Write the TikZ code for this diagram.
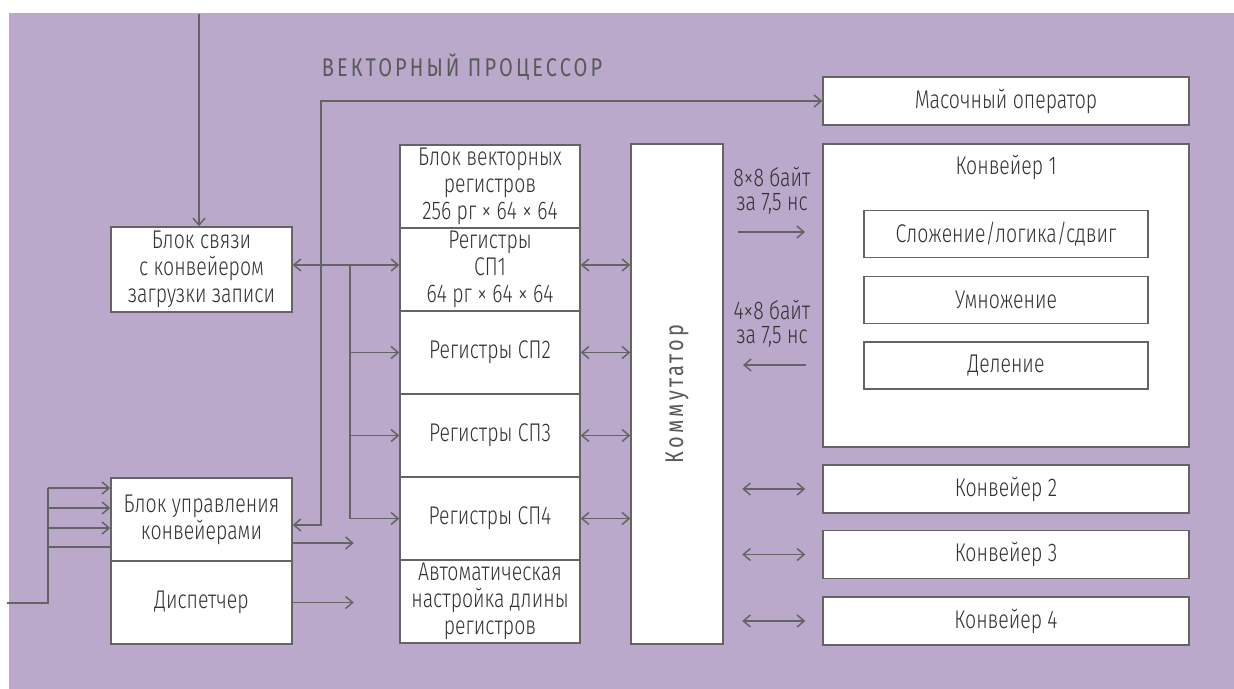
\documentclass[tikz,border=0pt]{standalone}
\usepackage{fontspec}
\setmainfont{Fira Sans Light}[FakeStretch=0.76]
\newfontfamily\titlefont{Fira Sans}[FakeStretch=0.78,LetterSpace=12]
\usetikzlibrary{arrows.meta}
\definecolor{bgpurple}{RGB}{186,169,202}
\definecolor{linegray}{RGB}{100,100,100}
\definecolor{txtgray}{RGB}{50,50,50}
\definecolor{ttlgray}{RGB}{90,90,90}

\begin{document}
\begin{tikzpicture}[x=0.5pt,y=-0.5pt,
	>={Straight Barb[length=3.5pt,width=6pt]},
	color=linegray, line width=0.75pt,
	box/.style={draw=linegray, fill=white, line width=0.75pt, inner sep=1pt,
		align=center, text=txtgray, font=\fontsize{12.8}{13.6}\selectfont},
	lbl/.style={align=center, text=txtgray, font=\fontsize{12.8}{12.2}\selectfont},
	ttl/.style={text=ttlgray, font=\titlefont\fontsize{12.8}{13.6}\selectfont}]
	\useasboundingbox (0,0) rectangle (1234,689);
	\fill[bgpurple] (9,13) rectangle (1234,689);
	\node[ttl] (title) at (462,67) {ВЕКТОРНЫЙ ПРОЦЕССОР};
	% left blocks
	\node[box, minimum width=90.5pt, minimum height=42.5pt] (svyaz) at (201.5,269.5) {Блок связи\\с конвейером\\загрузки записи};
	\node[box, minimum width=90.5pt, minimum height=41.5pt] (upr) at (201.5,519.5) {Блок управления\\конвейерами};
	\node[box, minimum width=90.5pt, minimum height=41.5pt] (disp) at (201.5,602.5) {Диспетчер};
	% registers
	\node[box, minimum width=90pt, minimum height=41.5pt] (reg0) at (490,186.5) {Блок векторных\\регистров\\256 рг × 64 × 64};
	\node[box, minimum width=90pt, minimum height=41.5pt] (reg1) at (490,269.5) {Регистры\\СП1\\64 рг × 64 × 64};
	\node[box, minimum width=90pt, minimum height=41.5pt] (reg2) at (490,352.5) {Регистры СП2};
	\node[box, minimum width=90pt, minimum height=41.5pt] (reg3) at (490,435.5) {Регистры СП3};
	\node[box, minimum width=90pt, minimum height=41.5pt] (reg4) at (490,518.5) {Регистры СП4};
	\node[box, minimum width=90pt, minimum height=41.5pt] (reg5) at (490,601.5) {Автоматическая\\настройка длины\\регистров};
	\node[box, minimum width=46pt, minimum height=250pt] (komm) at (677,394) {};
	\node[ttl, rotate=90] (kommtxt) at (komm.center) {Коммутатор};
	% pipelines
	\node[box, minimum width=183pt, minimum height=24pt] (mask) at (1006,101) {Масочный оператор};
	\node[box, minimum width=183pt, minimum height=151.5pt] (konv1) at (1006,295.5) {};
	\node[lbl] (k1txt) at (1006,167) {Конвейер 1};
	\node[box, minimum width=142pt, minimum height=23.5pt] (add) at (1006,234) {Сложение/логика/сдвиг};
	\node[box, minimum width=142pt, minimum height=23.5pt] (mul) at (1006,300) {Умножение};
	\node[box, minimum width=142pt, minimum height=23.5pt] (div) at (1006,365.5) {Деление};
	\node[box, minimum width=183pt, minimum height=24pt] (konv2) at (1006,489) {Конвейер 2};
	\node[box, minimum width=183pt, minimum height=24pt] (konv3) at (1006,554.5) {Конвейер 3};
	\node[box, minimum width=183pt, minimum height=24pt] (konv4) at (1006,621) {Конвейер 4};
	\node[lbl] (fwtxt) at (772,191) {8×8 байт\\за 7,5 нс};
	\node[lbl] (bwtxt) at (772,324) {4×8 байт\\за 7,5 нс};
	% input
	\coordinate (top) at (199,14);
	\draw[->] (top) -- (top |- svyaz.north);
	\coordinate (in) at (7,603);
	\coordinate (inbus) at (48,488);
	\draw (in) -| (inbus);
	\foreach \s in {15.75pt,5.75pt,-4.25pt}
		\draw[->] ([yshift=\s]upr.west -| inbus) -- ([yshift=\s]upr.west);
	\draw ([yshift=-13.75pt]upr.west -| inbus) -- ([yshift=-13.75pt]upr.west);
	% register bus
	\draw[<->] ([yshift=2.25pt]svyaz.east) -- ([yshift=2.25pt]reg1.west);
	\coordinate (rbus) at (350,265);
	\draw (rbus) -- (rbus |- reg4.west);
	\foreach \r in {reg2,reg3,reg4}
		\draw[->] (rbus |- \r.west) -- (\r.west);
	% mask bus
	\coordinate (mbus) at (321,101);
	\draw[<->] ([yshift=-2.75pt]upr.east) -| (mbus) -- (mask.west);
	\draw[->] ([yshift=-11.75pt]upr.east) -- +(61,0);
	\draw[->] (disp.east) -- +(61,0);
	% switch
	\draw[<->] ([yshift=2.25pt]reg1.east) -- ([yshift=2.25pt]reg1.east -| komm.west);
	\foreach \r in {reg2,reg3,reg4}
		\draw[<->] (\r.east) -- (\r.east -| komm.west);
	\coordinate (fw0) at (738,232);
	\coordinate (fw1) at (805,232);
	\coordinate (bw0) at (743,365);
	\coordinate (bw1) at (806,365);
	\draw[->] (fw0) -- (fw1);
	\draw[<-] (bw0) -- (bw1);
	\foreach \k in {konv2,konv3,konv4}
		\draw[<->] ([xshift=-40pt]\k.west) -- ([xshift=-8.5pt]\k.west);
\end{tikzpicture}
\end{document}
